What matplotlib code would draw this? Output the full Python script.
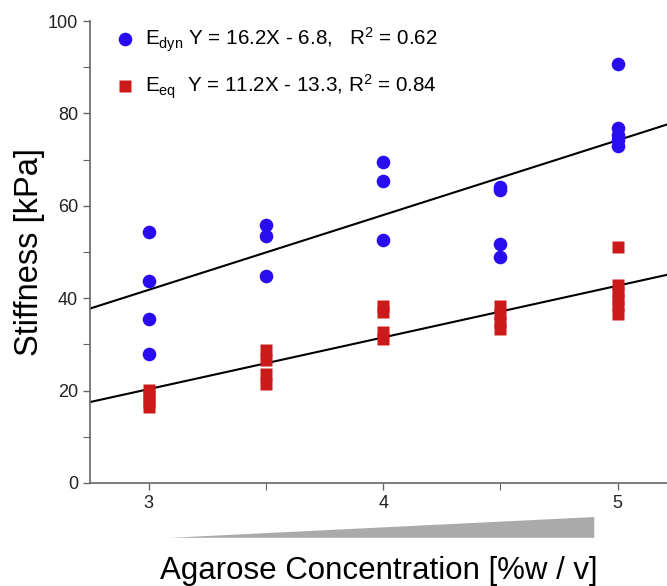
import numpy as np
import matplotlib
matplotlib.use('Agg')
import matplotlib.pyplot as plt
from matplotlib.patches import Polygon
from matplotlib.ticker import MultipleLocator

plt.rcParams['font.family'] = ['Liberation Sans', 'DejaVu Sans']
plt.rcParams['mathtext.fontset'] = 'custom'
plt.rcParams['mathtext.rm'] = 'Liberation Sans'
plt.rcParams['mathtext.it'] = 'Liberation Sans'

# agarose concentration [%w/v] and measured stiffness [kPa]
dyn_x = [3, 3, 3, 3, 3.5, 3.5, 3.5, 4, 4, 4, 4.5, 4.5, 4.5, 4.5, 5, 5, 5, 5, 5]
dyn_y = [54.3, 43.8, 35.4, 28.0, 55.8, 53.5, 44.7, 69.4, 65.3, 52.5,
         64.1, 63.4, 51.8, 48.9, 90.7, 76.8, 75.3, 74.2, 72.9]
eq_x = [3, 3, 3, 3, 3.5, 3.5, 3.5, 3.5, 4, 4, 4, 4, 4.5, 4.5, 4.5, 4.5, 5, 5, 5, 5, 5, 5]
eq_y = [20.2, 19.0, 17.6, 16.4, 28.8, 26.6, 23.6, 21.5, 38.3, 37.1, 32.7, 31.2,
        38.2, 36.6, 34.9, 33.4, 51.1, 42.8, 41.3, 39.8, 38.2, 36.6]

dyn_fit = (16.2, -6.8, 0.62)
eq_fit = (11.2, -13.3, 0.84)

XLIM = (2.75, 5.21)

fig = plt.figure(figsize=(6.67, 5.86), dpi=100)
ax = fig.add_axes([0.135, 0.176, 0.865, 0.788])

blue = '#2a0cf0'
red = '#cc1a1a'

ax.plot(dyn_x, dyn_y, 'o', color=blue, ms=9.8, mec='none', zorder=3,
        label=r'E$_{\mathrm{dyn}}$ Y = 16.2X - 6.8,   R$^{2}$ = 0.62')
ax.plot(eq_x, eq_y, 's', color=red, ms=8.4, mec='none', zorder=3,
        label=r'E$_{\mathrm{eq}}$  Y = 11.2X - 13.3, R$^{2}$ = 0.84')

xs = np.array(XLIM)
for slope, icpt, _ in (dyn_fit, eq_fit):
    ax.plot(xs, slope * xs + icpt, color='black', lw=1.5, zorder=2)

ax.set_xlim(*XLIM)
ax.set_ylim(0, 100)
ax.set_xticks([3, 4, 5])
ax.xaxis.set_minor_locator(MultipleLocator(0.5))
ax.set_yticks([0, 20, 40, 60, 80, 100])
ax.yaxis.set_minor_locator(MultipleLocator(10))
ax.tick_params(which='both', direction='out', color='#666666', labelsize=13,
               labelcolor='#222222')
ax.tick_params(which='major', length=5, width=1)
ax.tick_params(which='minor', length=5, width=0.8)
for s in ('top', 'right'):
    ax.spines[s].set_visible(False)
for s in ('left', 'bottom'):
    ax.spines[s].set_color('#666666')
    ax.spines[s].set_linewidth(1.2)

ax.set_ylabel('Stiffness [kPa]', fontsize=23.5, labelpad=2)
ax.set_xlabel('Agarose Concentration [%w / v]', fontsize=22.5, labelpad=32)

leg = ax.legend(loc='upper left', bbox_to_anchor=(0.018, 1.021), frameon=False,
                fontsize=14.9, handletextpad=0.45, labelspacing=0.9,
                borderaxespad=0.3, handlelength=1.0)

# gray wedge under the x axis indicating increasing concentration
wedge = Polygon([[3.09, -11.9], [4.9, -7.4], [4.9, -11.9]], closed=True,
                transform=ax.transData, clip_on=False, facecolor='#aaaaaa',
                edgecolor='none')
ax.add_patch(wedge)

fig.savefig('out.png', dpi=100)
